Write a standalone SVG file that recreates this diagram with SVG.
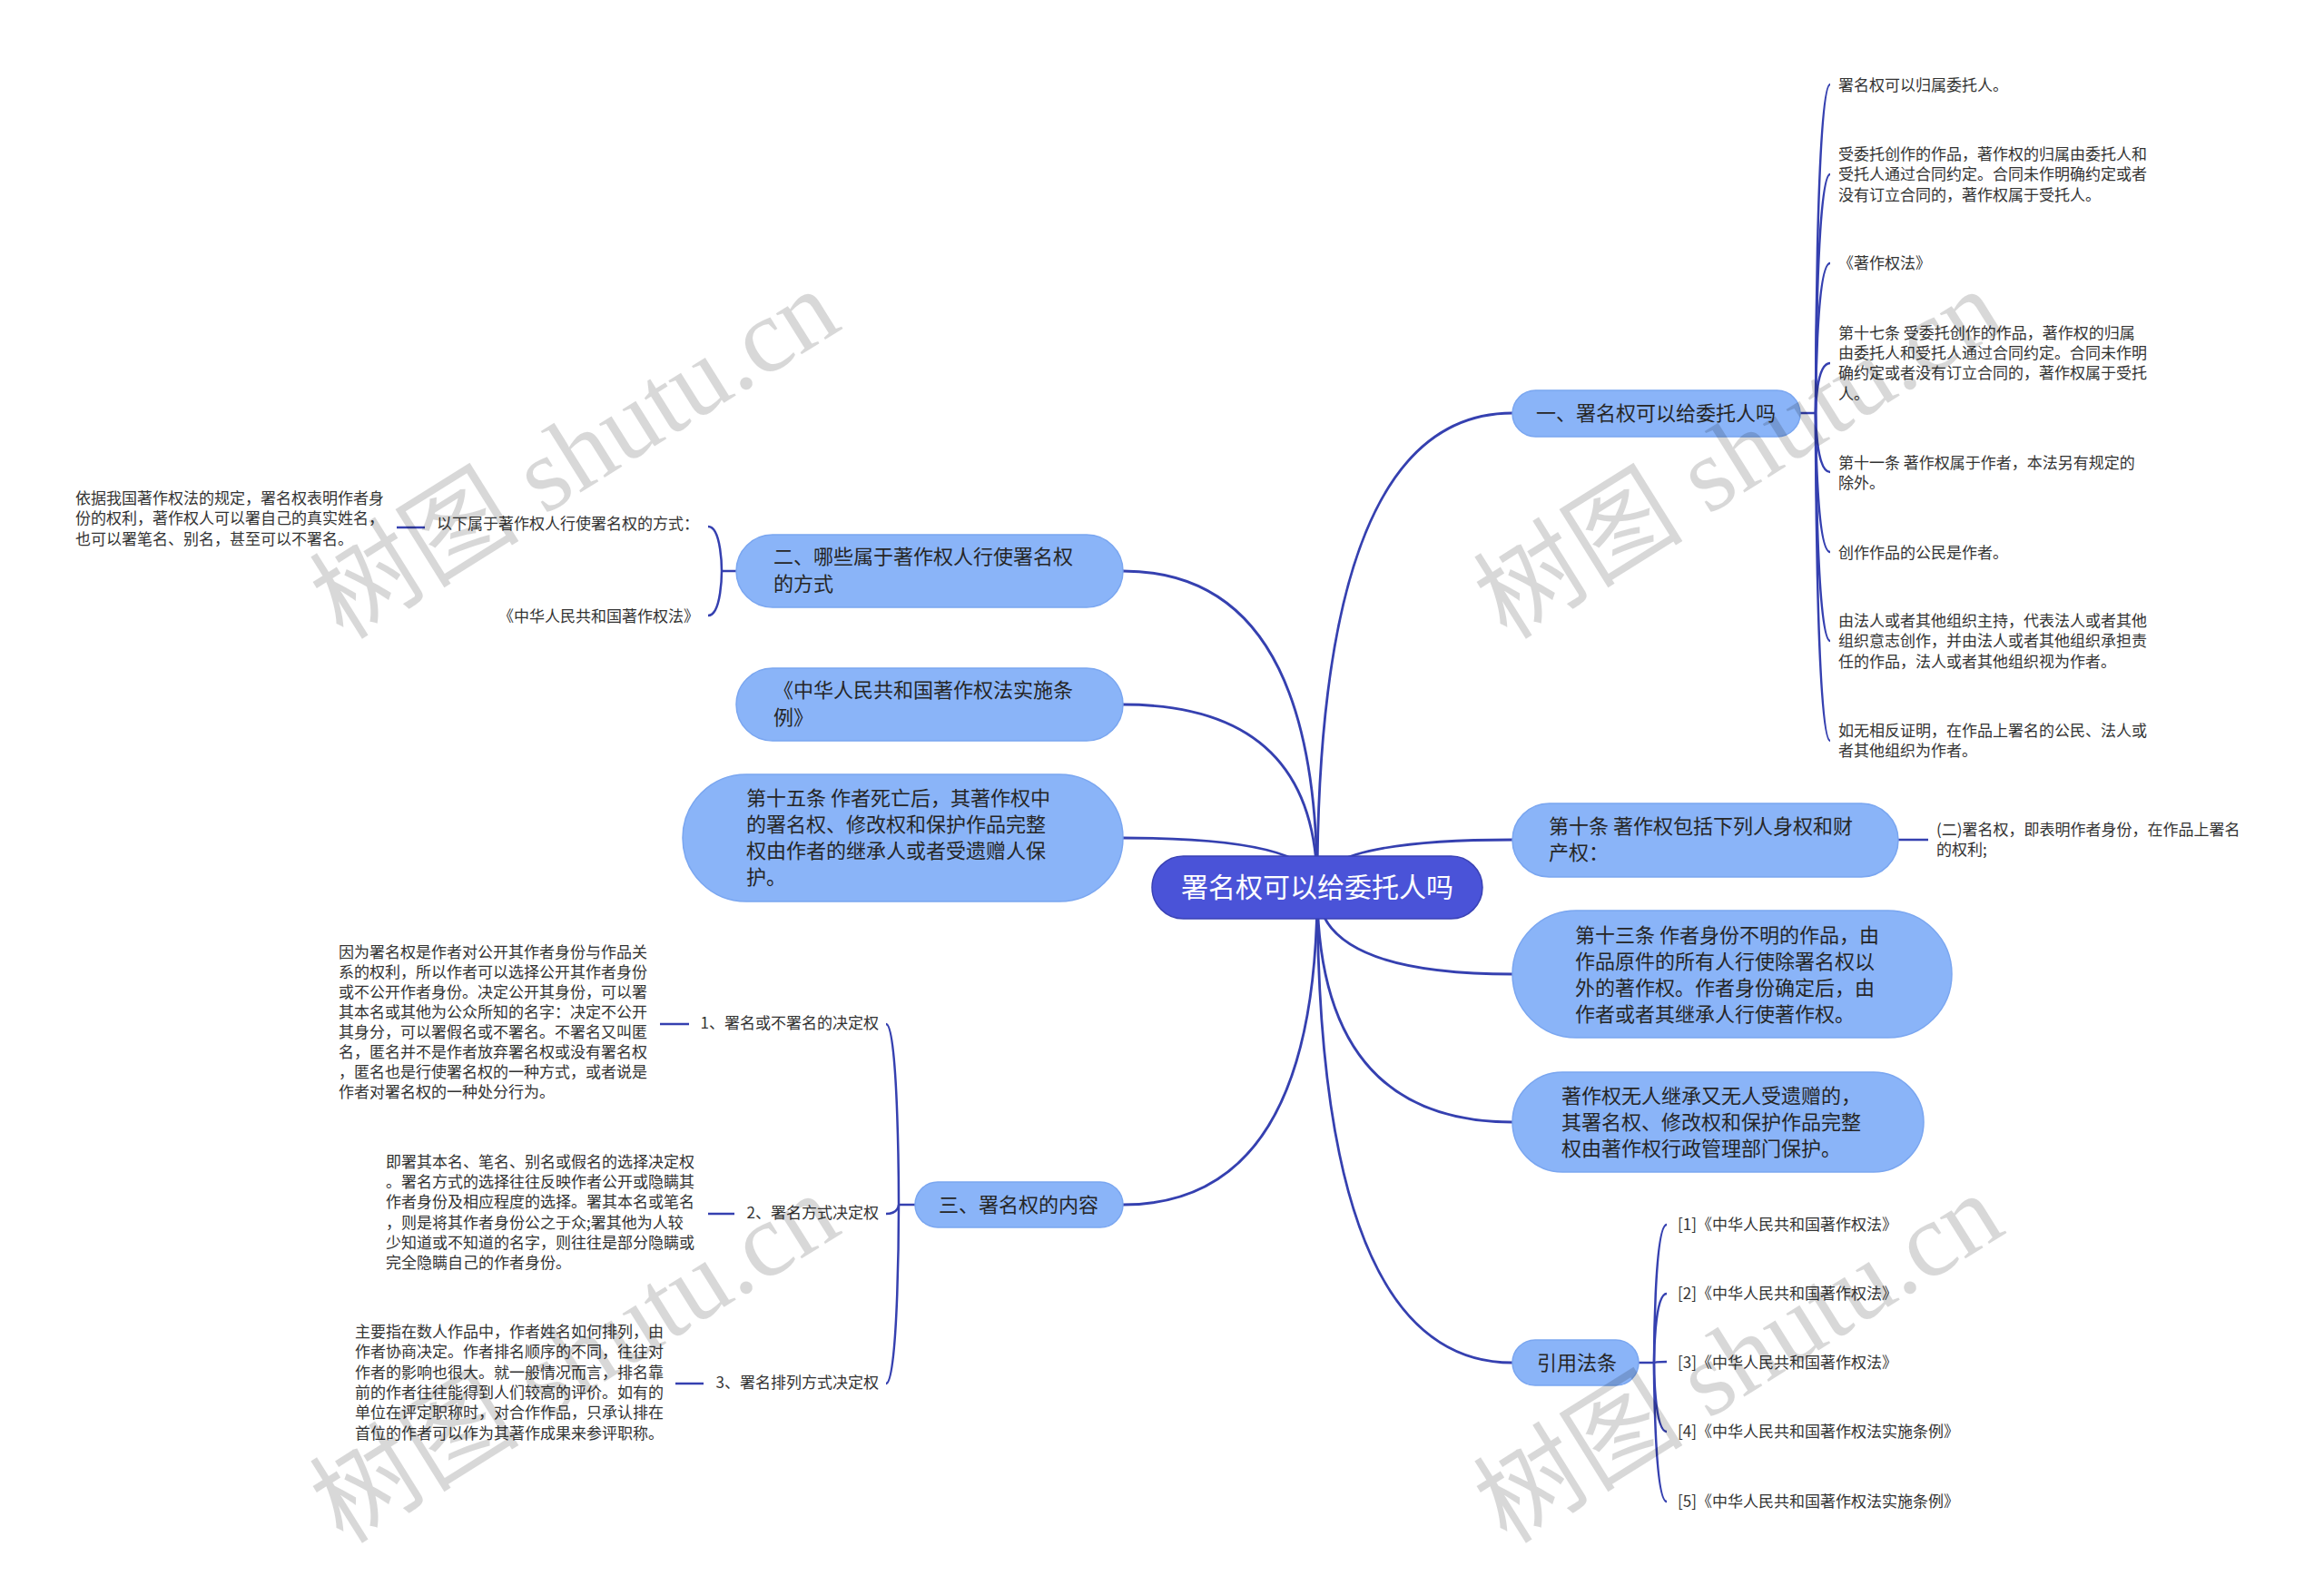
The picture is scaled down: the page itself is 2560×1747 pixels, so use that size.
<svg xmlns="http://www.w3.org/2000/svg" width="2560" height="1747" viewBox="0 0 2560 1747">
<style>
text{font-family:"Noto Sans CJK SC","Noto Sans",sans-serif}
.bg{fill:#ffffff}
.n rect{fill:#8ab4f8;stroke:#7aa6f0;stroke-width:1.5}
.root rect{fill:#4a53d8;stroke:#3a42b5;stroke-width:1.5}
.root text{fill:#ffffff;font-size:30px}
.n text{fill:#262626;font-size:22px}
.leaf text{fill:#333333;font-size:17px}
.conn path{fill:none;stroke:#3540b0;stroke-width:2.5}
.conn .main{stroke-width:2.8}
.wm text{font-family:"Liberation Serif","Noto Sans CJK SC",serif;font-size:116px;fill:#000000;opacity:0.15}
</style>
<rect class="bg" x="0" y="0" width="2560" height="1747"/>

<g id="connectors" class="conn">
<path class="main" d="M1451,978 Q1451,455 1666,455"/>
<path class="main" d="M1451,978 Q1451,629 1237,629"/>
<path class="main" d="M1451,978 Q1451,776 1237,776"/>
<path class="main" d="M1451,978 Q1451,923 1237,923"/>
<path class="main" d="M1451,978 Q1451,925 1666,925"/>
<path class="main" d="M1451,978 Q1451,1073 1666,1073"/>
<path class="main" d="M1451,978 Q1451,1236 1666,1236"/>
<path class="main" d="M1451,978 Q1451,1327 1237,1327"/>
<path class="main" d="M1451,978 Q1451,1501 1666,1501"/>

<path d="M1983,455 L2000,455"/>
<path d="M2000,455 C2000,455 2000,93 2016,93"/>
<path d="M2000,455 C2000,455 2000,192 2016,192"/>
<path d="M2000,455 C2000,455 2000,290 2016,290"/>
<path d="M2000,455 C2000,455 2000,400 2016,400"/>
<path d="M2000,455 C2000,455 2000,520 2016,520"/>
<path d="M2000,455 C2000,455 2000,608 2016,608"/>
<path d="M2000,455 C2000,455 2000,706 2016,706"/>
<path d="M2000,455 C2000,455 2000,816 2016,816"/>

<path d="M2091,925 L2124,925"/>

<path d="M1805,1501 L1822,1501"/>
<path d="M1822,1501 C1822,1501 1822,1349 1836,1349"/>
<path d="M1822,1501 C1822,1501 1822,1425 1836,1425"/>
<path d="M1822,1501 C1822,1501 1822,1500 1836,1500"/>
<path d="M1822,1501 C1822,1501 1822,1577 1836,1577"/>
<path d="M1822,1501 C1822,1501 1822,1654 1836,1654"/>

<path d="M811,629 L795,629"/>
<path d="M795,629 C795,629 795,580 780,580"/>
<path d="M795,629 C795,629 795,678 780,678"/>
<path d="M468,581 L437,581"/>

<path d="M1008,1327 L990,1327"/>
<path d="M990,1327 C990,1327 990,1128 976,1128"/>
<path d="M990,1327 C990,1327 990,1337 976,1337"/>
<path d="M990,1327 C990,1327 990,1524 976,1524"/>
<path d="M759,1128 L727,1128"/>
<path d="M809,1337 L780,1337"/>
<path d="M775,1524 L744,1524"/>
</g>

<g id="root" class="root">
<rect x="1269" y="943" width="364" height="69" rx="34.5"/>
<text x="1451" y="988" text-anchor="middle">署名权可以给委托人吗</text>
</g>

<g id="n1" class="n">
<rect x="1666" y="430" width="317" height="51" rx="25.5"/>
<text x="1692" y="463">一、署名权可以给委托人吗</text>
</g>
<g id="n2" class="n">
<rect x="811" y="589" width="426" height="80" rx="40"/>
<text x="852" y="621">二、哪些属于著作权人行使署名权</text>
<text x="852" y="651">的方式</text>
</g>
<g id="n3" class="n">
<rect x="811" y="736" width="426" height="80" rx="40"/>
<text x="852" y="768">《中华人民共和国著作权法实施条</text>
<text x="852" y="798">例》</text>
</g>
<g id="n4" class="n">
<rect x="752" y="853" width="485" height="140" rx="70"/>
<text x="822" y="887">第十五条 作者死亡后，其著作权中</text>
<text x="822" y="916">的署名权、修改权和保护作品完整</text>
<text x="822" y="945">权由作者的继承人或者受遗赠人保</text>
<text x="822" y="974">护。</text>
</g>
<g id="n5" class="n">
<rect x="1666" y="885" width="425" height="81" rx="40.5"/>
<text x="1706" y="918">第十条 著作权包括下列人身权和财</text>
<text x="1706" y="947">产权：</text>
</g>
<g id="n6" class="n">
<rect x="1666" y="1003" width="484" height="140" rx="70"/>
<text x="1735" y="1038">第十三条 作者身份不明的作品，由</text>
<text x="1735" y="1067">作品原件的所有人行使除署名权以</text>
<text x="1735" y="1096">外的著作权。作者身份确定后，由</text>
<text x="1735" y="1125">作者或者其继承人行使著作权。</text>
</g>
<g id="n7" class="n">
<rect x="1666" y="1181" width="453" height="110" rx="55"/>
<text x="1720" y="1215">著作权无人继承又无人受遗赠的，</text>
<text x="1720" y="1244">其署名权、修改权和保护作品完整</text>
<text x="1720" y="1273">权由著作权行政管理部门保护。</text>
</g>
<g id="n8" class="n">
<rect x="1008" y="1302" width="229" height="50" rx="25"/>
<text x="1034" y="1335">三、署名权的内容</text>
</g>
<g id="n9" class="n">
<rect x="1666" y="1476" width="139" height="50" rx="25"/>
<text x="1693" y="1509">引用法条</text>
</g>

<g id="l1" class="leaf"><text x="2025" y="100">署名权可以归属委托人。</text></g>
<g id="l2" class="leaf">
<text x="2025" y="176">受委托创作的作品，著作权的归属由委托人和</text>
<text x="2025" y="198">受托人通过合同约定。合同未作明确约定或者</text>
<text x="2025" y="221">没有订立合同的，著作权属于受托人。</text>
</g>
<g id="l3" class="leaf"><text x="2025" y="296">《著作权法》</text></g>
<g id="l4" class="leaf">
<text x="2025" y="373">第十七条 受委托创作的作品，著作权的归属</text>
<text x="2025" y="395">由委托人和受托人通过合同约定。合同未作明</text>
<text x="2025" y="417">确约定或者没有订立合同的，著作权属于受托</text>
<text x="2025" y="440">人。</text>
</g>
<g id="l5" class="leaf">
<text x="2025" y="516">第十一条 著作权属于作者，本法另有规定的</text>
<text x="2025" y="538">除外。</text>
</g>
<g id="l6" class="leaf"><text x="2025" y="615">创作作品的公民是作者。</text></g>
<g id="l7" class="leaf">
<text x="2025" y="690">由法人或者其他组织主持，代表法人或者其他</text>
<text x="2025" y="712">组织意志创作，并由法人或者其他组织承担责</text>
<text x="2025" y="735">任的作品，法人或者其他组织视为作者。</text>
</g>
<g id="l8" class="leaf">
<text x="2025" y="811">如无相反证明，在作品上署名的公民、法人或</text>
<text x="2025" y="833">者其他组织为作者。</text>
</g>
<g id="l9" class="leaf">
<text x="2133" y="920">(二)署名权，即表明作者身份，在作品上署名</text>
<text x="2133" y="942">的权利;</text>
</g>
<g id="r1" class="leaf"><text x="1848" y="1355">[1]《中华人民共和国著作权法》</text></g>
<g id="r2" class="leaf"><text x="1848" y="1431">[2]《中华人民共和国著作权法》</text></g>
<g id="r3" class="leaf"><text x="1848" y="1507">[3]《中华人民共和国著作权法》</text></g>
<g id="r4" class="leaf"><text x="1848" y="1583">[4]《中华人民共和国著作权法实施条例》</text></g>
<g id="r5" class="leaf"><text x="1848" y="1660">[5]《中华人民共和国著作权法实施条例》</text></g>

<g id="a1" class="leaf"><text x="770" y="583" text-anchor="end">以下属于著作权人行使署名权的方式：</text></g>
<g id="a2" class="leaf"><text x="770" y="685" text-anchor="end">《中华人民共和国著作权法》</text></g>
<g id="a3" class="leaf">
<text x="83" y="555">依据我国著作权法的规定，署名权表明作者身</text>
<text x="83" y="577">份的权利，著作权人可以署自己的真实姓名，</text>
<text x="83" y="600">也可以署笔名、别名，甚至可以不署名。</text>
</g>

<g id="b1" class="leaf"><text x="968" y="1133" text-anchor="end">1、署名或不署名的决定权</text></g>
<g id="b1c" class="leaf">
<text x="373" y="1055">因为署名权是作者对公开其作者身份与作品关</text>
<text x="373" y="1077">系的权利，所以作者可以选择公开其作者身份</text>
<text x="373" y="1099">或不公开作者身份。决定公开其身份，可以署</text>
<text x="373" y="1121">其本名或其他为公众所知的名字：决定不公开</text>
<text x="373" y="1143">其身分，可以署假名或不署名。不署名又叫匿</text>
<text x="373" y="1165">名，匿名并不是作者放弃署名权或没有署名权</text>
<text x="373" y="1187">，匿名也是行使署名权的一种方式，或者说是</text>
<text x="373" y="1209">作者对署名权的一种处分行为。</text>
</g>
<g id="b2" class="leaf"><text x="968" y="1342" text-anchor="end">2、署名方式决定权</text></g>
<g id="b2c" class="leaf">
<text x="425" y="1286">即署其本名、笔名、别名或假名的选择决定权</text>
<text x="425" y="1308">。署名方式的选择往往反映作者公开或隐瞒其</text>
<text x="425" y="1330">作者身份及相应程度的选择。署其本名或笔名</text>
<text x="425" y="1353">，则是将其作者身份公之于众;署其他为人较</text>
<text x="425" y="1375">少知道或不知道的名字，则往往是部分隐瞒或</text>
<text x="425" y="1397">完全隐瞒自己的作者身份。</text>
</g>
<g id="b3" class="leaf"><text x="968" y="1529" text-anchor="end">3、署名排列方式决定权</text></g>
<g id="b3c" class="leaf">
<text x="391" y="1473">主要指在数人作品中，作者姓名如何排列，由</text>
<text x="391" y="1495">作者协商决定。作者排名顺序的不同，往往对</text>
<text x="391" y="1518">作者的影响也很大。就一般情况而言，排名靠</text>
<text x="391" y="1540">前的作者往往能得到人们较高的评价。如有的</text>
<text x="391" y="1562">单位在评定职称时，对合作作品，只承认排在</text>
<text x="391" y="1585">首位的作者可以作为其著作成果来参评职称。</text>
</g>

<g id="watermarks" class="wm">
<text transform="translate(378,706) rotate(-32)">树图 shutu.cn</text>
<text transform="translate(1660,706) rotate(-32)">树图 shutu.cn</text>
<text transform="translate(378,1702) rotate(-32)">树图 shutu.cn</text>
<text transform="translate(1660,1702) rotate(-32)">树图 shutu.cn</text>
</g>
</svg>
